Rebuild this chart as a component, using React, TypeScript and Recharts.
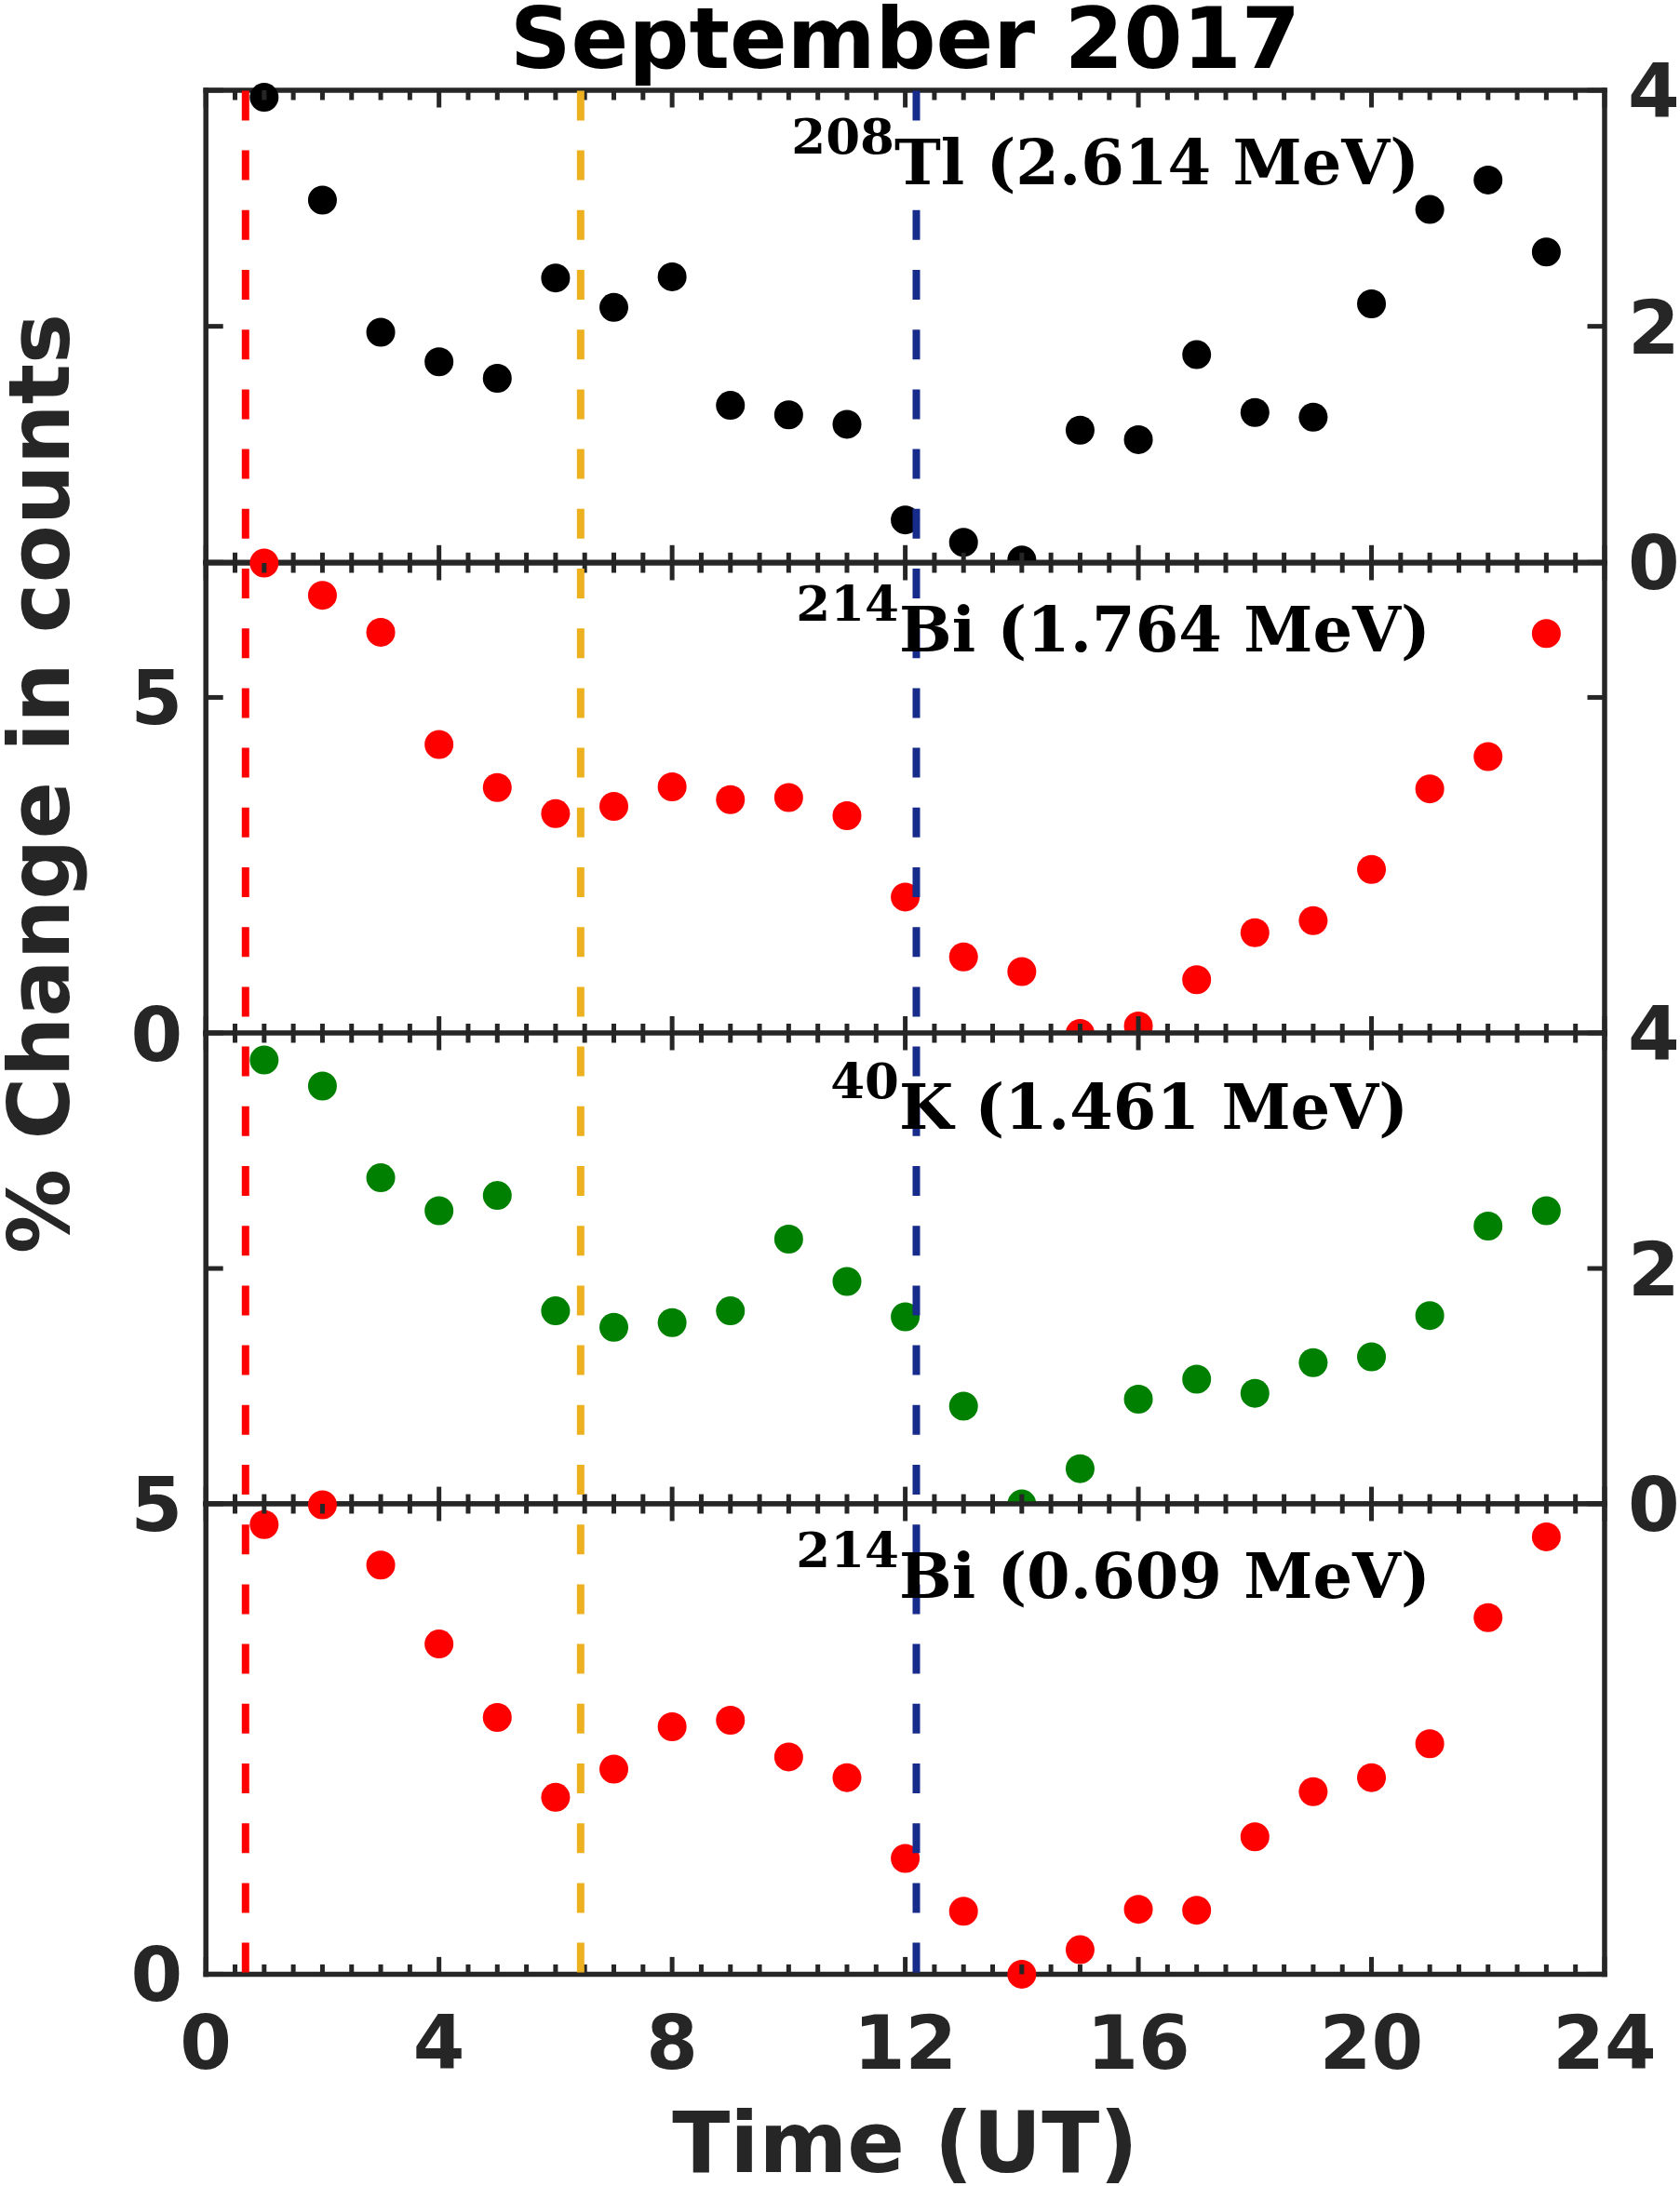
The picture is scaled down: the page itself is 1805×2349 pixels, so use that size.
import React from "react";
import {
  CartesianGrid,
  ReferenceLine,
  Scatter,
  ScatterChart,
  XAxis,
  YAxis,
} from "recharts";

// hours (UT) of the hourly samples
const HOURS = [1, 2, 3, 4, 5, 6, 7, 8, 9, 10, 11, 12, 13, 14, 15, 16, 17, 18, 19, 20, 21, 22, 23];

// % change in counts
const TL208_2614 = [3.94, 3.07, 1.95, 1.7, 1.56, 2.41, 2.16, 2.42, 1.33, 1.25, 1.17, 0.36, 0.17, 0.02, 1.12, 1.04, 1.76, 1.27, 1.23, 2.19, 2.99, 3.24, 2.63];
const BI214_1764 = [7.0, 6.52, 5.97, 4.3, 3.66, 3.27, 3.38, 3.67, 3.48, 3.51, 3.24, 2.03, 1.14, 0.92, 0.0, 0.11, 0.8, 1.5, 1.68, 2.44, 3.64, 4.12, 5.95];
const K40_1461 = [3.77, 3.55, 2.77, 2.49, 2.62, 1.64, 1.5, 1.54, 1.64, 2.25, 1.89, 1.59, 0.83, 0.0, 0.3, 0.89, 1.06, 0.94, 1.2, 1.25, 1.6, 2.36, 2.49];
const BI214_0609 = [4.78, 4.99, 4.35, 3.51, 2.73, 1.88, 2.18, 2.63, 2.7, 2.31, 2.09, 1.23, 0.67, 0.0, 0.26, 0.69, 0.68, 1.46, 1.94, 2.09, 2.45, 3.79, 4.65];

// axis ticks
const X_MAJOR = [0, 4, 8, 12, 16, 20, 24];
const X_TICKS = [
  0, 0.5, 1, 1.5, 2, 2.5, 3, 3.5, 4, 4.5, 5, 5.5, 6, 6.5, 7, 7.5, 8, 8.5, 9, 9.5, 10, 10.5, 11, 11.5, 12,
  12.5, 13, 13.5, 14, 14.5, 15, 15.5, 16, 16.5, 17, 17.5, 18, 18.5, 19, 19.5, 20, 20.5, 21, 21.5, 22, 22.5,
  23, 23.5, 24,
];
const Y_TICKS_4 = [0, 2, 4];
const Y_TICKS_5 = [0, 5];

// dashed event markers (UT)
const EVENT_TIMES = [0.68, 6.43, 12.19];
const EVENT_COLORS = ["#ff0000", "#edb120", "#172b8a"];

const PANELS = [
  { values: TL208_2614, color: "#000000", max: 4, ticks: Y_TICKS_4, side: "right", mass: "208", name: "Tl (2.614 MeV)" },
  { values: BI214_1764, color: "#ff0000", max: 7, ticks: Y_TICKS_5, side: "left", mass: "214", name: "Bi (1.764 MeV)" },
  { values: K40_1461, color: "#008000", max: 4, ticks: Y_TICKS_4, side: "right", mass: "40", name: "K (1.461 MeV)" },
  { values: BI214_0609, color: "#ff0000", max: 5, ticks: Y_TICKS_5, side: "left", mass: "214", name: "Bi (0.609 MeV)" },
];

// layout
const W = 1805;
const H = 2349;
const PLOT_LEFT = 221.2;
const PLOT_RIGHT = 1724;
const BOUNDS = [97.4, 604.7, 1110.2, 1616.3, 2121.7];
const PAD = 60;
const LAST_PAD = 150;
const LABEL_X = [961, 966, 966, 966];
const LABEL_BASE = [198.3, 699.7, 1212.7, 1716.7];

const AXIS = "#262626";
const SANS = "DejaVu Sans";
const SERIF = "DejaVu Serif";

function xTick(side: "top" | "bottom", showLabel: boolean) {
  return (props: any) => {
    const { x, y, payload } = props;
    const v = payload.value;
    const major = X_MAJOR.includes(v);
    const len = major ? 18.5 : 10.5;
    const dir = side === "bottom" ? -1 : 1;
    return (
      <g>
        <line x1={x} y1={y} x2={x} y2={y + dir * len} stroke={AXIS} strokeWidth={5} />
        {showLabel && major ? (
          <text x={x} y={y + 102} textAnchor="middle" fontFamily={SANS} fontWeight="bold" fontSize={80} fill={AXIS}>
            {v}
          </text>
        ) : null}
      </g>
    );
  };
}

function yTick(side: "left" | "right", showLabel: boolean) {
  return (props: any) => {
    const { x, y, payload } = props;
    const dir = side === "left" ? 1 : -1;
    return (
      <g>
        <line x1={x} y1={y} x2={x + dir * 18.5} y2={y} stroke={AXIS} strokeWidth={5} />
        {showLabel ? (
          <text
            x={side === "left" ? x - 25 : x + 25}
            y={y + 29}
            textAnchor={side === "left" ? "end" : "start"}
            fontFamily={SANS}
            fontWeight="bold"
            fontSize={80}
            fill={AXIS}
          >
            {payload.value}
          </text>
        ) : null}
      </g>
    );
  };
}

const axisLine = { stroke: AXIS, strokeWidth: 5.5, strokeLinecap: "square" as const };

function Panel({ index }: { index: number }) {
  const p = PANELS[index];
  const top = BOUNDS[index];
  const h = BOUNDS[index + 1] - top;
  const last = index === PANELS.length - 1;
  const padBottom = last ? LAST_PAD : PAD;
  const data = HOURS.map((t, i) => ({ t, v: p.values[i] }));
  return (
    <div style={{ position: "absolute", left: 0, top: top - PAD }}>
      <ScatterChart width={W} height={h + PAD + padBottom} margin={{ top: 0, right: 0, bottom: 0, left: 0 }}>
        <CartesianGrid xAxisId="b" yAxisId="l" horizontal={false} vertical={false} fill="#ffffff" />
        <XAxis
          xAxisId="b"
          orientation="bottom"
          type="number"
          dataKey="t"
          domain={[0, 24]}
          ticks={X_TICKS}
          interval={0}
          height={padBottom}
          tickSize={0}
          tickMargin={0}
          tickLine={false}
          axisLine={axisLine}
          tick={xTick("bottom", last)}
        />
        <XAxis
          xAxisId="t"
          orientation="top"
          type="number"
          dataKey="t"
          domain={[0, 24]}
          allowDataOverflow
          ticks={X_TICKS}
          interval={0}
          height={PAD}
          tickSize={0}
          tickMargin={0}
          tickLine={false}
          axisLine={axisLine}
          tick={xTick("top", false)}
        />
        <YAxis
          yAxisId="l"
          orientation="left"
          type="number"
          dataKey="v"
          domain={[0, p.max]}
          ticks={p.ticks}
          interval={0}
          width={PLOT_LEFT}
          tickSize={0}
          tickMargin={0}
          tickLine={false}
          axisLine={axisLine}
          tick={yTick("left", p.side === "left")}
        />
        <YAxis
          yAxisId="r"
          orientation="right"
          type="number"
          dataKey="v"
          domain={[0, p.max]}
          allowDataOverflow
          ticks={p.ticks}
          interval={0}
          width={W - PLOT_RIGHT}
          tickSize={0}
          tickMargin={0}
          tickLine={false}
          axisLine={axisLine}
          tick={yTick("right", p.side === "right")}
        />
        <Scatter
          data={data}
          xAxisId="b"
          yAxisId="l"
          fill={p.color}
          isAnimationActive={false}
          shape={(s: any) => <circle cx={s.cx} cy={s.cy} r={15.5} fill={p.color} />}
        />
      </ScatterChart>
    </div>
  );
}

function EventLines() {
  return (
    <div style={{ position: "absolute", left: 0, top: 0 }}>
      <ScatterChart
        width={W}
        height={H}
        margin={{ top: BOUNDS[0], bottom: H - BOUNDS[4], left: PLOT_LEFT, right: W - PLOT_RIGHT }}
      >
        <XAxis type="number" dataKey="t" domain={[0, 24]} allowDataOverflow hide />
        <YAxis type="number" dataKey="v" domain={[0, 1]} allowDataOverflow hide />
        {EVENT_TIMES.map((t, i) => (
          <ReferenceLine
            key={t}
            segment={[
              { x: t, y: 1 },
              { x: t, y: 0 },
            ]}
            stroke={EVENT_COLORS[i]}
            strokeWidth={8}
            strokeDasharray="32 32.2"
          />
        ))}
      </ScatterChart>
    </div>
  );
}

export default function App() {
  const midX = (PLOT_LEFT + PLOT_RIGHT) / 2;
  return (
    <div style={{ position: "absolute", left: 0, top: 0, width: W, height: H, background: "#ffffff", overflow: "hidden" }}>
      <svg width={W} height={H} style={{ position: "absolute", left: 0, top: 0 }}>
        <text x={midX} y={73} textAnchor="middle" fontFamily={SANS} fontWeight="bold" fontSize={91} fill="#000000">
          September 2017
        </text>
        <text
          x={74}
          y={842}
          transform="rotate(-90, 74, 842)"
          textAnchor="middle"
          fontFamily={SANS}
          fontWeight="bold"
          fontSize={91}
          fill={AXIS}
        >
          % Change in counts
        </text>
        <text x={midX} y={2334} textAnchor="middle" fontFamily={SANS} fontWeight="bold" fontSize={91} fill={AXIS}>
          Time (UT)
        </text>
      </svg>
      {PANELS.map((_, i) => (
        <Panel key={i} index={i} />
      ))}
      <EventLines />
      <svg width={W} height={H} style={{ position: "absolute", left: 0, top: 0, pointerEvents: "none" }}>
        {PANELS.map((p, i) => (
          <g key={i} fontFamily={SERIF} fontWeight="bold" fill="#000000">
            <text x={LABEL_X[i]} y={LABEL_BASE[i] - 33} textAnchor="end" fontSize={53}>
              {p.mass}
            </text>
            <text x={LABEL_X[i]} y={LABEL_BASE[i]} fontSize={67}>
              {p.name}
            </text>
          </g>
        ))}
      </svg>
    </div>
  );
}
